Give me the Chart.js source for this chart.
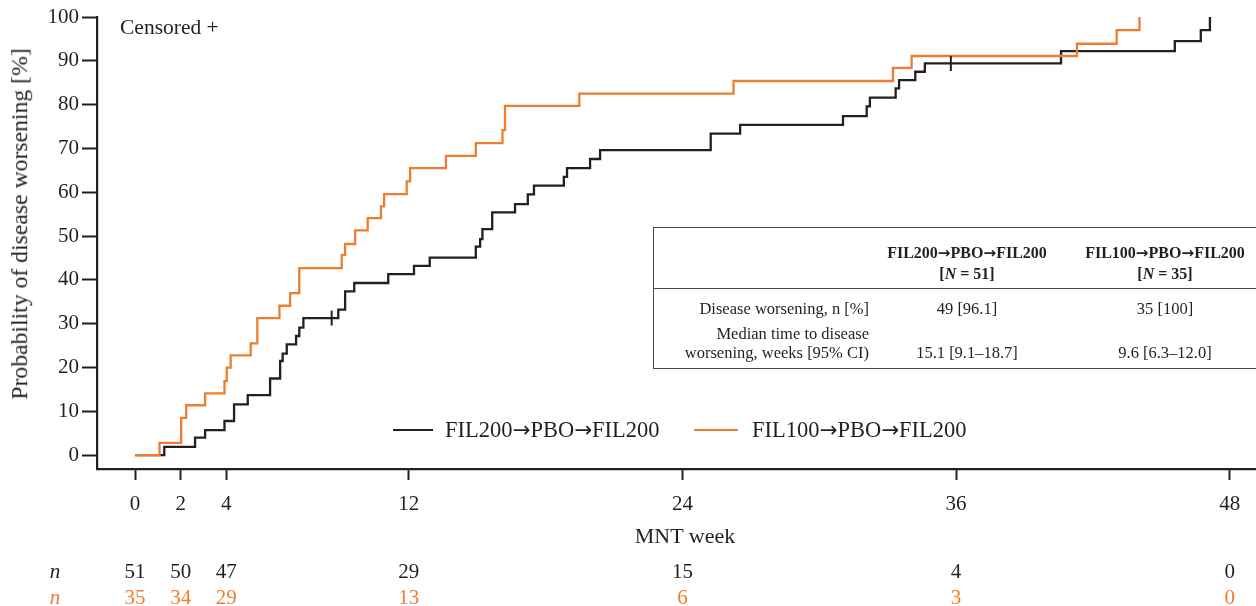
<!DOCTYPE html>
<html>
<head>
<meta charset="utf-8">
<script src="https://cdn.jsdelivr.net/npm/chart.js@4.4.1/dist/chart.umd.min.js"></script>
<style>
    body { margin: 0; background: #fff; overflow: hidden; }
    #wrap { position: relative; width: 1256px; height: 606px; overflow: hidden;
            font-family: "Liberation Serif", "DejaVu Serif", serif; color: #231f20; }
    #chart { position: absolute; left: 0; top: 0; }
    .lbl { position: absolute; white-space: nowrap; line-height: 1; transform: translate(-50%, -50%); }
    .left { transform: translate(0, -50%); }
    .right { transform: translate(-100%, -50%); }
    .arr { font-family: "DejaVu Sans", sans-serif; font-size: 0.95em; }
    .swatch { position: absolute; height: 2.4px; }
    #summary { position: absolute; left: 653px; top: 227px; width: 640px; height: 142px;
               border: 1.5px solid #4a4a4a; box-sizing: border-box; }
    #summary .sep { position: absolute; left: 0; right: 0; top: 60px; border-top: 1.5px solid #4a4a4a; }
    #summary .lbl { font-size: 16.5px; }
    #summary .head { font-weight: bold; font-size: 16px; }
</style>
</head>
<body>
<div id="wrap">
    <canvas id="chart" width="1256" height="606"></canvas>
</div>
<script>
    // Kaplan-Meier steps (week, cumulative % worsened)
    const fil200Label = 'FIL200\u2192PBO\u2192FIL200';
    const fil100Label = 'FIL100\u2192PBO\u2192FIL200';

    const fil200Weeks = [0, 1.28, 2.63, 3.07, 3.92, 4.34, 4.94, 5.92, 6.36, 6.47,
        6.65, 7.06, 7.2, 7.38, 8.91, 9.21, 9.61, 11.1, 12.23, 12.92,
        14.94, 15.13, 15.23, 15.66, 16.66, 17.22, 17.49, 18.8, 18.94, 19.95,
        20.39, 25.24, 26.53, 31.04, 32.08, 32.22, 33.35, 33.5, 34.21, 34.63,
        40.6, 45.59, 46.73, 47.13];
    const fil200Prob = [0, 1.9, 4.0, 5.7, 7.8, 11.6, 13.7, 17.5, 21.5, 23.2,
        25.3, 27.2, 29.1, 31.3, 33.2, 37.4, 39.3, 41.3, 43.2, 45.1,
        47.6, 49.3, 51.6, 55.4, 57.3, 59.5, 61.5, 63.5, 65.5, 67.6,
        69.6, 73.4, 75.4, 77.4, 79.6, 81.6, 83.7, 85.6, 87.5, 89.4,
        92.2, 94.5, 97.0, 100];
    const fil200CensorWeeks = [8.62, 35.77];
    const fil200CensorProb = [31.3, 89.4];

    const fil100Weeks = [0, 1.07, 2.02, 2.24, 3.07, 3.92, 4.02, 4.19, 5.07, 5.36,
        6.33, 6.8, 7.2, 9.06, 9.21, 9.65, 10.2, 10.78, 10.92, 11.91,
        12.06, 13.63, 14.94, 16.11, 16.22, 19.48, 26.24, 33.23, 34.05, 41.3,
        43.04, 44.04];
    const fil100Prob = [0, 2.8, 8.5, 11.4, 14.1, 16.9, 20.0, 22.8, 25.5, 31.3,
        34.1, 37.0, 42.7, 45.7, 48.2, 51.3, 54.1, 56.8, 59.6, 62.5,
        65.5, 68.3, 71.2, 74.2, 79.7, 82.5, 85.4, 88.4, 91.1, 93.9,
        97.0, 100];

    const xTicks = [0, 2, 4, 12, 24, 36, 48];
    const yTicks = [0, 10, 20, 30, 40, 50, 60, 70, 80, 90, 100];
    const fil200AtRisk = [51, 50, 47, 29, 15, 4, 0];
    const fil100AtRisk = [35, 34, 29, 13, 6, 3, 0];

    const dark = '#231f20';
    const orange = '#ef7d30';
    const fontFamily = '"Liberation Serif", "DejaVu Serif", serif';

    const toPoints = (xs, ys) => xs.map((x, i) => ({ x: x, y: ys[i] }));
    // arrows are missing from Liberation Serif, take them from DejaVu
    const withArrows = (s) => s.replace(/\u2192/g, '<span class="arr">\u2192</span>');

    const chart = new Chart(document.getElementById('chart'), {
        type: 'line',
        data: {
            datasets: [
                {
                    type: 'scatter',
                    data: toPoints(fil200CensorWeeks, fil200CensorProb),
                    showLine: false,
                    pointStyle: 'line',
                    pointRotation: 90,
                    pointRadius: 7.5,
                    pointBorderWidth: 2,
                    pointBorderColor: dark,
                    order: 0
                },
                {
                    label: fil100Label,
                    data: toPoints(fil100Weeks, fil100Prob),
                    borderColor: orange,
                    borderWidth: 2.3,
                    stepped: true,
                    pointRadius: 0,
                    fill: false,
                    order: 1
                },
                {
                    label: fil200Label,
                    data: toPoints(fil200Weeks, fil200Prob),
                    borderColor: dark,
                    borderWidth: 2.3,
                    stepped: true,
                    pointRadius: 0,
                    fill: false,
                    order: 2
                }
            ]
        },
        options: {
            responsive: false,
            animation: false,
            events: [],
            // no auto padding: the censor marks would otherwise pull the axis in
            layout: { autoPadding: false, padding: { top: 17, right: 0, bottom: 0, left: 0 } },
            plugins: { legend: { display: false }, tooltip: { enabled: false } },
            scales: {
                x: {
                    type: 'linear',
                    min: -1.67,
                    max: 49.15,
                    afterBuildTicks: (s) => { s.ticks = xTicks.map(v => ({ value: v })); },
                    afterFit: (s) => { s.height = 137; },
                    grid: { drawOnChartArea: false, tickLength: 11, tickWidth: 2, color: dark },
                    border: { color: dark, width: 2.2 },
                    // labels are placed below as html, lined up with the scale
                    ticks: { display: false }
                },
                y: {
                    min: -3.15,
                    max: 100,
                    afterBuildTicks: (s) => { s.ticks = yTicks.map(v => ({ value: v })); },
                    afterFit: (s) => { s.width = 97; },
                    grid: { drawOnChartArea: false, tickLength: 15, tickWidth: 2, color: dark },
                    border: { color: dark, width: 2.2 },
                    ticks: { color: dark, padding: 3, font: { family: fontFamily, size: 21 } }
                }
            }
        }
    });

    // overlay texts
    const wrap = document.getElementById('wrap');
    const addText = (html, x, y, opts = {}) => {
        const el = document.createElement('div');
        el.className = 'lbl' + (opts.cls ? ' ' + opts.cls : '');
        el.innerHTML = html;
        el.style.left = x + 'px';
        el.style.top = y + 'px';
        if (opts.size) el.style.fontSize = opts.size + 'px';
        if (opts.color) el.style.color = opts.color;
        if (opts.style) el.style.cssText += opts.style;
        (opts.parent || wrap).appendChild(el);
        return el;
    };

    addText('Probability of disease worsening [%]', 20, 224,
        { size: 23.7, style: 'transform: translate(-50%, -50%) rotate(-90deg);' });
    addText('Censored +', 120, 28, { size: 21.5, cls: 'left' });
    addText('MNT week', 685, 536, { size: 22 });

    // legend
    const addSwatch = (x, y, w, color) => {
        const el = document.createElement('div');
        el.className = 'swatch';
        el.style.cssText += `left:${x}px;top:${y - 1.2}px;width:${w}px;background:${color};`;
        wrap.appendChild(el);
    };
    addSwatch(393, 430, 40, dark);
    addText(withArrows(fil200Label), 445, 430, { size: 22.5, cls: 'left' });
    addSwatch(694, 430, 44, orange);
    addText(withArrows(fil100Label), 752, 430, { size: 22.5, cls: 'left' });

    // x tick labels and numbers at risk, placed with the x scale
    const xs = chart.scales.x;
    addText('<i>n</i>', 55, 571, { size: 21 });
    addText('<i>n</i>', 55, 597, { size: 21, color: orange });
    xTicks.forEach((w, i) => {
        const px = xs.getPixelForValue(w);
        addText(String(w), px, 503, { size: 21 });
        addText(String(fil200AtRisk[i]), px, 571, { size: 21 });
        addText(String(fil100AtRisk[i]), px, 597, { size: 21, color: orange });
    });

    // summary table
    const box = document.createElement('div');
    box.id = 'summary';
    box.innerHTML = '<div class="sep"></div>';
    wrap.appendChild(box);
    const col1 = 966 - 653, col2 = 1164 - 653, rowRight = 868 - 653;
    addText(withArrows(fil200Label), col1, 25, { parent: box, cls: 'head' });
    addText('[<i>N</i> = 51]', col1, 46, { parent: box, cls: 'head' });
    addText(withArrows(fil100Label), col2, 25, { parent: box, cls: 'head' });
    addText('[<i>N</i> = 35]', col2, 46, { parent: box, cls: 'head' });
    addText('Disease worsening, n [%]', rowRight, 81, { parent: box, cls: 'right' });
    addText('49 [96.1]', col1, 81, { parent: box });
    addText('35 [100]', col2, 81, { parent: box });
    addText('Median time to disease', rowRight, 106, { parent: box, cls: 'right' });
    addText('worsening, weeks [95% CI)', rowRight, 125, { parent: box, cls: 'right' });
    addText('15.1 [9.1\u201318.7]', col1, 125, { parent: box });
    addText('9.6 [6.3\u201312.0]', col2, 125, { parent: box });
</script>
</body>
</html>
